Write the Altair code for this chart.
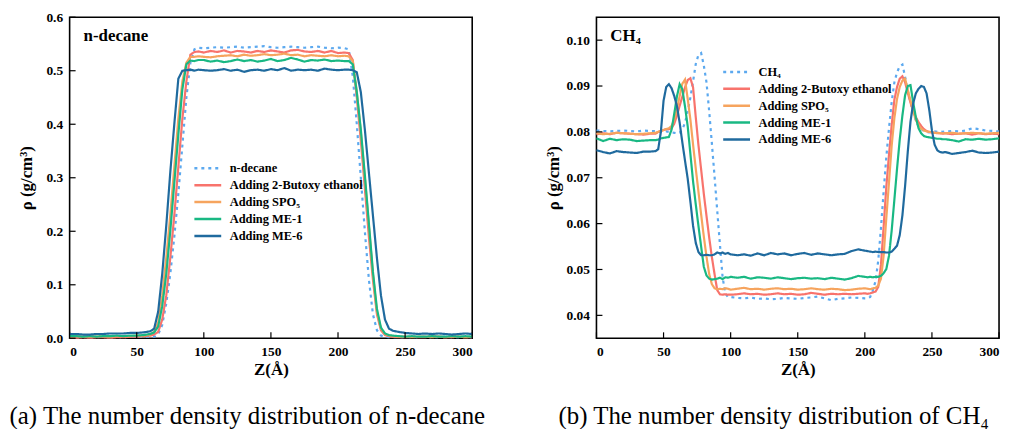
import altair as alt
import pandas as pd

FONT = "Liberation Serif"

# ---------------- panel (a): n-decane ----------------
Z_L = [0, 5, 10, 15, 20, 25, 30, 35, 40, 45, 50, 55, 60,
       63, 66, 69, 72, 75, 78, 81, 84, 87, 90, 93, 96,
       100, 105, 110, 115, 120, 125, 130, 135, 140, 145, 150, 155, 160, 165, 170, 175, 180, 185, 190, 195, 200, 205,
       208, 211, 214, 217, 220, 223, 226, 229, 232, 235, 238, 241,
       245, 250, 255, 260, 265, 270, 275, 280, 285, 290, 295, 300]

L_DECANE = [0.003, 0.002, 0.003, 0.002, 0.002, 0.003, 0.002, 0.003, 0.002, 0.003, 0.003, 0.003, 0.003,
            0.003, 0.007, 0.025, 0.065, 0.12, 0.19, 0.27, 0.36, 0.45, 0.515, 0.540, 0.543,
            0.542, 0.543, 0.544, 0.543, 0.544, 0.545, 0.543, 0.544, 0.545, 0.546, 0.544, 0.543, 0.544, 0.545, 0.544, 0.543, 0.544, 0.545, 0.543, 0.542, 0.543, 0.542,
            0.540, 0.49, 0.40, 0.30, 0.20, 0.11, 0.045, 0.015, 0.005, 0.003, 0.002, 0.002,
            0.002, 0.002, 0.002, 0.002, 0.003, 0.002, 0.002, 0.003, 0.002, 0.002, 0.003, 0.002]
L_BUT = [0.001, 0.001, 0.002, 0.001, 0.002, 0.002, 0.001, 0.002, 0.002, 0.003, 0.003, 0.004, 0.005,
         0.007, 0.012, 0.035, 0.08, 0.15, 0.23, 0.32, 0.41, 0.48, 0.530, 0.535, 0.536,
         0.534, 0.537, 0.535, 0.538, 0.534, 0.537, 0.536, 0.534, 0.537, 0.535, 0.538, 0.536, 0.534, 0.538, 0.539, 0.536, 0.535, 0.537, 0.534, 0.537, 0.533, 0.534,
         0.533, 0.52, 0.45, 0.37, 0.28, 0.19, 0.11, 0.045, 0.015, 0.006, 0.004, 0.003,
         0.002, 0.002, 0.003, 0.002, 0.002, 0.004, 0.003, 0.002, 0.002, 0.003, 0.002, 0.002]
L_SPO = [0.003, 0.004, 0.003, 0.003, 0.003, 0.004, 0.003, 0.004, 0.004, 0.004, 0.005, 0.005, 0.007,
         0.012, 0.03, 0.08, 0.15, 0.23, 0.32, 0.41, 0.48, 0.515, 0.526, 0.526, 0.527,
         0.526, 0.525, 0.527, 0.528, 0.529, 0.527, 0.530, 0.528, 0.529, 0.531, 0.529, 0.530, 0.532, 0.529, 0.530, 0.527, 0.529, 0.528, 0.527, 0.529, 0.527, 0.528,
         0.527, 0.518, 0.46, 0.385, 0.30, 0.21, 0.12, 0.05, 0.018, 0.008, 0.005, 0.004,
         0.003, 0.003, 0.002, 0.003, 0.003, 0.002, 0.003, 0.002, 0.003, 0.003, 0.002, 0.003]
L_ME1 = [0.004, 0.004, 0.003, 0.004, 0.003, 0.004, 0.004, 0.005, 0.004, 0.005, 0.005, 0.006, 0.008,
         0.011, 0.022, 0.06, 0.12, 0.20, 0.29, 0.38, 0.465, 0.512, 0.519, 0.518, 0.520,
         0.520, 0.517, 0.519, 0.516, 0.518, 0.521, 0.518, 0.520, 0.517, 0.519, 0.522, 0.518, 0.520, 0.524, 0.521, 0.517, 0.520, 0.519, 0.521, 0.518, 0.519, 0.518,
         0.518, 0.512, 0.46, 0.39, 0.305, 0.215, 0.125, 0.055, 0.02, 0.009, 0.006, 0.005,
         0.004, 0.003, 0.004, 0.003, 0.003, 0.004, 0.003, 0.003, 0.004, 0.003, 0.004, 0.003]
L_ME6 = [0.008, 0.008, 0.007, 0.007, 0.008, 0.008, 0.009, 0.009, 0.009, 0.010, 0.010, 0.011, 0.013,
         0.018, 0.05, 0.12, 0.21, 0.31, 0.40, 0.485, 0.500, 0.501, 0.502, 0.500, 0.502,
         0.501, 0.500, 0.501, 0.503, 0.500, 0.502, 0.498, 0.501, 0.502, 0.500, 0.503, 0.501, 0.505, 0.500, 0.502, 0.501, 0.502, 0.500, 0.504, 0.502, 0.501, 0.502,
         0.502, 0.501, 0.497, 0.46, 0.39, 0.31, 0.23, 0.15, 0.08, 0.035, 0.018, 0.014,
         0.012, 0.010, 0.009, 0.008, 0.009, 0.008, 0.009, 0.008, 0.007, 0.008, 0.009, 0.008]

# ---------------- panel (b): CH4 ----------------
Z_R = [0, 5, 10, 15, 20, 25, 30, 35, 40,
       44, 46, 48, 50, 52, 54, 56, 58, 60, 62, 64, 66, 68, 70, 72, 74, 76, 78, 80, 82, 84, 86, 88, 90, 92, 94, 96, 98,
       100, 105, 110, 115, 120, 125, 130, 135, 140, 145, 150, 155, 160, 165, 170, 175, 180, 185, 190, 195, 200,
       202, 204, 206, 208, 210, 212, 214, 216, 218, 220, 222, 224, 226, 228, 230, 232, 234, 236, 238, 240, 242, 244, 246, 248, 250, 252, 254, 256, 258,
       260, 265, 270, 275, 280, 285, 290, 295, 300]

R_CH4 = [0.0803, 0.0802, 0.0801, 0.0802, 0.0803, 0.0802, 0.0801, 0.0803, 0.0802,
         0.0802, 0.0801, 0.0800, 0.0800, 0.0801, 0.0800, 0.0799, 0.0798, 0.0797, 0.0798, 0.0805, 0.0820, 0.0845, 0.0875,
         0.0910, 0.0948, 0.0968, 0.0972, 0.0945, 0.0908, 0.0845, 0.0775, 0.0703, 0.0628, 0.0555, 0.0483, 0.0448, 0.0440,
         0.0440, 0.0438, 0.0437, 0.0439, 0.0436, 0.0437, 0.0435, 0.0436, 0.0438, 0.0437, 0.0436, 0.0438, 0.0439, 0.0441,
         0.0437, 0.0433, 0.0436, 0.0437, 0.0439, 0.0438, 0.0437,
         0.0437, 0.0440, 0.0455, 0.0475, 0.0520, 0.0590, 0.0670, 0.0745, 0.0808, 0.0865, 0.0908, 0.0930, 0.0943, 0.0947,
         0.0920, 0.0889, 0.0866, 0.0843, 0.0825, 0.0812, 0.0806, 0.0802, 0.0800, 0.0799, 0.0800, 0.0801, 0.0800, 0.0801, 0.0800,
         0.0801, 0.0802, 0.0801, 0.0803, 0.0808, 0.0806, 0.0803, 0.0802, 0.0801]
R_BUT = [0.0795, 0.0797, 0.0795, 0.0798, 0.0797, 0.0796, 0.0795, 0.0794, 0.0796,
         0.0796, 0.0800, 0.0802, 0.0804, 0.0806, 0.0806, 0.0808, 0.0818, 0.0836, 0.0857, 0.0877, 0.0897, 0.0913, 0.0917,
         0.0897, 0.0832, 0.0771, 0.0718, 0.0665, 0.0617, 0.0570, 0.0527, 0.0490, 0.0455, 0.0446, 0.0445, 0.0446, 0.0445,
         0.0445, 0.0446, 0.0448, 0.0446, 0.0447, 0.0445, 0.0446, 0.0448, 0.0446, 0.0447, 0.0445, 0.0446, 0.0449, 0.0447,
         0.0445, 0.0447, 0.0446, 0.0447, 0.0446, 0.0447, 0.0448,
         0.0447, 0.0448, 0.0450, 0.0452, 0.0462, 0.0510, 0.0593, 0.0680, 0.0750, 0.0815, 0.0870, 0.0898, 0.0916, 0.0921,
         0.0908, 0.0885, 0.0864, 0.0845, 0.0832, 0.0821, 0.0813, 0.0806, 0.0802, 0.0800, 0.0799, 0.0798, 0.0797, 0.0797, 0.0796,
         0.0797, 0.0795, 0.0796, 0.0797, 0.0794, 0.0797, 0.0795, 0.0796, 0.0795]
R_SPO = [0.0797, 0.0795, 0.0796, 0.0798, 0.0797, 0.0796, 0.0795, 0.0796, 0.0797,
         0.0798, 0.0800, 0.0802, 0.0804, 0.0806, 0.0808, 0.0813, 0.0827, 0.0850, 0.0878, 0.0905, 0.0914, 0.0872, 0.0827,
         0.0772, 0.0720, 0.0670, 0.0620, 0.0572, 0.0528, 0.0490, 0.0468, 0.0459, 0.0457, 0.0458, 0.0457, 0.0459, 0.0458,
         0.0456, 0.0458, 0.0460, 0.0457, 0.0458, 0.0456, 0.0458, 0.0459, 0.0457, 0.0458, 0.0456, 0.0457, 0.0459, 0.0457,
         0.0456, 0.0458, 0.0457, 0.0455, 0.0456, 0.0458, 0.0459,
         0.0458, 0.0457, 0.0459, 0.0460, 0.0465, 0.0480, 0.0530, 0.0612, 0.0690, 0.0770, 0.0830, 0.0872, 0.0898, 0.0912,
         0.0916, 0.0892, 0.0868, 0.0845, 0.0826, 0.0815, 0.0807, 0.0803, 0.0801, 0.0800, 0.0799, 0.0798, 0.0798, 0.0797, 0.0797,
         0.0797, 0.0798, 0.0796, 0.0797, 0.0798, 0.0797, 0.0796, 0.0797, 0.0798]
R_ME1 = [0.0786, 0.0780, 0.0785, 0.0782, 0.0784, 0.0783, 0.0780, 0.0781, 0.0782,
         0.0782, 0.0783, 0.0786, 0.0787, 0.0788, 0.0789, 0.0805, 0.0840, 0.0878, 0.0904, 0.0893, 0.0855, 0.0812, 0.0752,
         0.0692, 0.0642, 0.0595, 0.0550, 0.0506, 0.0487, 0.0480, 0.0478, 0.0479, 0.0480, 0.0482, 0.0479, 0.0483, 0.0482,
         0.0484, 0.0482, 0.0484, 0.0480, 0.0483, 0.0482, 0.0480, 0.0483, 0.0481, 0.0479, 0.0481, 0.0482, 0.0480, 0.0481,
         0.0479, 0.0482, 0.0480, 0.0478, 0.0481, 0.0486, 0.0484,
         0.0483, 0.0484, 0.0483, 0.0484, 0.0484, 0.0486, 0.0492, 0.0501, 0.0530, 0.0585, 0.0652, 0.0720, 0.0783, 0.0836,
         0.0880, 0.0900, 0.0902, 0.0865, 0.0832, 0.0808, 0.0797, 0.0791, 0.0789, 0.0788, 0.0787, 0.0786, 0.0785, 0.0785, 0.0784,
         0.0784, 0.0782, 0.0779, 0.0784, 0.0783, 0.0785, 0.0783, 0.0784, 0.0786]
R_ME6 = [0.0760, 0.0756, 0.0753, 0.0758, 0.0756, 0.0755, 0.0754, 0.0757, 0.0757,
         0.0758, 0.0762, 0.0800, 0.0868, 0.0898, 0.0904, 0.0895, 0.0878, 0.0856, 0.0820, 0.0777, 0.0737, 0.0698, 0.0648,
         0.0595, 0.0558, 0.0538, 0.0531, 0.0531, 0.0532, 0.0531, 0.0531, 0.0533, 0.0537, 0.0535, 0.0537, 0.0534, 0.0536,
         0.0533, 0.0531, 0.0533, 0.0530, 0.0535, 0.0531, 0.0536, 0.0533, 0.0535, 0.0531, 0.0534, 0.0536, 0.0532, 0.0535,
         0.0533, 0.0531, 0.0533, 0.0534, 0.0540, 0.0544, 0.0541,
         0.0540, 0.0539, 0.0538, 0.0539, 0.0538, 0.0538, 0.0538, 0.0537, 0.0537, 0.0539, 0.0545, 0.0552, 0.0575, 0.0618,
         0.0682, 0.0757, 0.0822, 0.0862, 0.0884, 0.0894, 0.0900, 0.0898, 0.0884, 0.0848, 0.0803, 0.0772, 0.0760, 0.0756, 0.0755,
         0.0756, 0.0752, 0.0754, 0.0756, 0.0759, 0.0755, 0.0754, 0.0755, 0.0757]

NAMES_L = ["n-decane", "Adding 2-Butoxy ethanol", "Adding SPO\u2085", "Adding ME-1", "Adding ME-6"]
NAMES_R = ["CH\u2084", "Adding 2-Butoxy ethanol", "Adding SPO\u2085", "Adding ME-1", "Adding ME-6"]
COLORS = ["#5CA9EF", "#F8736C", "#F6A45E", "#19B883", "#1F6A9E"]
DASHES = [[3, 4], [1, 0], [1, 0], [1, 0], [1, 0]]
X_TICKS = [0, 50, 100, 150, 200, 250, 300]
Y_TICKS_L = [0.0, 0.1, 0.2, 0.3, 0.4, 0.5, 0.6]
Y_TICKS_R = [0.04, 0.05, 0.06, 0.07, 0.08, 0.09, 0.10]

W, H = 405, 323


def panel(z, cols, names, ydom, yticks, yfmt, label, caption, lx, ly, ytp):
    for c in cols:
        assert len(c) == len(z)
    rows = []
    for name, vals in zip(names, cols):
        for zz, v in zip(z, vals):
            rows.append({"z": zz, "v": v, "s": name})
    df = pd.DataFrame(rows)
    xs = alt.Scale(domain=[0, 300], nice=False, zero=False)
    ys = alt.Scale(domain=ydom, nice=False, zero=False)
    leg = alt.Legend(orient="none", legendX=lx, legendY=ly, title=None,
                     labelFont=FONT, labelFontWeight="bold", labelFontSize=12.5,
                     labelColor="black", symbolType="M-2,0L2,0", symbolSize=182,
                     symbolStrokeWidth=2.5, rowPadding=2, labelOffset=14, padding=0)
    lines = alt.Chart(df).mark_line(strokeWidth=2.2).encode(
        x=alt.X("z:Q", scale=xs, title="Z(Å)",
                axis=alt.Axis(values=X_TICKS, labelPadding=6, titlePadding=4, tickSize=0)),
        y=alt.Y("v:Q", scale=ys, title="ρ (g/cm³)",
                axis=alt.Axis(values=yticks, format=yfmt, labelPadding=7, titlePadding=ytp, tickSize=0)),
        color=alt.Color("s:N", scale=alt.Scale(domain=names, range=COLORS), legend=leg),
        strokeDash=alt.StrokeDash("s:N", scale=alt.Scale(domain=names, range=DASHES), legend=leg),
    )
    yt = alt.Chart(pd.DataFrame({"v": yticks})).mark_rule(color="black", strokeWidth=1.2).encode(
        y=alt.Y("v:Q", scale=ys, title="ρ (g/cm³)"), x=alt.value(0), x2=alt.value(6))
    xt = alt.Chart(pd.DataFrame({"z": X_TICKS})).mark_rule(color="black", strokeWidth=1.2).encode(
        x=alt.X("z:Q", scale=xs, title="Z(Å)"), y=alt.value(H), y2=alt.value(H - 6))
    txt = alt.Chart(pd.DataFrame({"t": [label]})).mark_text(
        align="left", baseline="alphabetic", font=FONT, fontWeight="bold", fontSize=17, color="black"
    ).encode(x=alt.value(14), y=alt.value(24), text="t:N")
    return alt.layer(lines, yt, xt, txt).properties(
        width=W, height=H,
        title=alt.TitleParams(caption, orient="bottom", anchor="middle", frame="bounds",
                              font=FONT, fontSize=25, fontWeight="normal", color="black", offset=27))


left = panel(Z_L, [L_DECANE, L_BUT, L_SPO, L_ME1, L_ME6], NAMES_L, [0, 0.6], Y_TICKS_L, ".1f",
             "n-decane", "(a) The number density distribution of n-decane", 131, 144, 10)
right = panel(Z_R, [R_CH4, R_BUT, R_SPO, R_ME1, R_ME6], NAMES_R, [0.035, 0.105], Y_TICKS_R, ".2f",
              "CH\u2084", "(b) The number density distribution of CH\u2084", 133, 47, 4)

chart = alt.hconcat(left, right, spacing=125, bounds="flush").resolve_scale(
    color="independent", strokeDash="independent"
).resolve_legend(color="independent", strokeDash="independent").properties(
    padding={"left": 0, "top": 0, "right": 0, "bottom": 0}
).configure_view(stroke="black", strokeWidth=1.6).configure_axis(
    domain=False, ticks=False, grid=False,
    labelFont=FONT, labelFontWeight="bold", labelFontSize=13.5, labelColor="black",
    titleFont=FONT, titleFontWeight="bold", titleFontSize=17, titleColor="black"
)

chart.save("out.html", embed_options={"renderer": "svg", "actions": False})
